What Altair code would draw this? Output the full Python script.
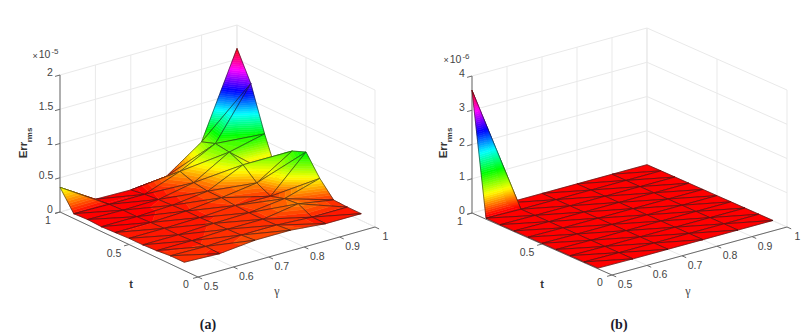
import altair as alt
import pandas as pd

gamma_vals = [0.5, 0.6, 0.7, 0.8, 0.9, 1.0]
t_vals = [1.0, 0.9, 0.8, 0.7, 0.6, 0.5, 0.4, 0.3, 0.2, 0.1]

# Err_rms x 1e-5, rows by t, columns by gamma
err_a = [
    [0.36, 0.04, 0.03, 0.08, 0.44, 1.66],
    [0.07, 0.06, 0.06, 0.25, 0.51, 1.24],
    [0.08, 0.07, 0.08, 0.18, 0.48, 0.60],
    [0.07, 0.07, 0.09, 0.15, 0.39, 0.05],
    [0.08, 0.08, 0.10, 0.15, 0.22, 0.54],
    [0.09, 0.09, 0.10, 0.13, 0.12, 0.62],
    [0.09, 0.09, 0.11, 0.12, 0.18, 0.33],
    [0.10, 0.10, 0.12, 0.12, 0.20, 0.11],
    [0.12, 0.11, 0.13, 0.13, 0.10, 0.10],
    [0.12, 0.10, 0.15, 0.15, 0.10, 0.10],
]
# Err_rms x 1e-6
err_b = [
    [3.58, 0.01, 0.01, 0.01, 0.01, 0.01],
    [0.03, 0.01, 0.01, 0.01, 0.01, 0.01],
    [0.02, 0.01, 0.01, 0.01, 0.01, 0.01],
    [0.02, 0.01, 0.01, 0.01, 0.01, 0.01],
    [0.02, 0.01, 0.01, 0.01, 0.01, 0.01],
    [0.02, 0.01, 0.01, 0.01, 0.01, 0.01],
    [0.02, 0.01, 0.01, 0.01, 0.01, 0.01],
    [0.02, 0.01, 0.01, 0.01, 0.01, 0.01],
    [0.02, 0.01, 0.01, 0.01, 0.01, 0.01],
    [0.02, 0.01, 0.01, 0.01, 0.01, 0.01],
]

gamma_ticks = [0.5, 0.6, 0.7, 0.8, 0.9, 1.0]
gamma_labels = ["0.5", "0.6", "0.7", "0.8", "0.9", "1"]
t_ticks = [1.0, 0.5, 0.0]
t_labels = ["1", "0.5", "0"]
z_ticks_a = [0, 0.5, 1, 1.5, 2]
z_labels_a = ["0", "0.5", "1", "1.5", "2"]
z_ticks_b = [0, 1, 2, 3, 4]
z_labels_b = ["0", "1", "2", "3", "4"]

BANDS = 64
AXIS = "#6a6a6a"
GRID = "#e9e9e9"
TEXT = "#444444"


def hsv_colour(f):
    f = max(0.0, min(0.999, f)) * 6
    i = int(f)
    r = f - i
    table = [(1, r, 0), (1 - r, 1, 0), (0, 1, r), (0, 1 - r, 1), (r, 0, 1), (1, 0, 1 - r)]
    c = table[i]
    return "#%02x%02x%02x" % tuple(int(round(v * 255)) for v in c)


def clip(poly, level, keep_above):
    out = []
    n = len(poly)
    for i in range(n):
        a, b = poly[i], poly[(i + 1) % n]
        ina = a[2] >= level if keep_above else a[2] <= level
        inb = b[2] >= level if keep_above else b[2] <= level
        if ina:
            out.append(a)
        if ina != inb:
            s = (level - a[2]) / (b[2] - a[2])
            out.append(tuple(a[k] + s * (b[k] - a[k]) for k in range(3)))
    return out


class Panel:
    def __init__(self, origin, gvec, tvec, zscale, ztop):
        self.o, self.g, self.t, self.zs, self.ztop = origin, gvec, tvec, zscale, ztop

    def at(self, gamma, t, z):
        a = (gamma - 0.5) * 2
        b = 1 - t
        return (self.o[0] + a * self.g[0] + b * self.t[0],
                self.o[1] + a * self.g[1] + b * self.t[1] - z * self.zs)


panel_a = Panel((60, 212), (177, -50), (138, 65), 68.5, 2)
panel_b = Panel((472, 213), (175, -48), (140, 62), 34.25, 4)

surface_rows = []
line_rows = []
counter = [0]


def add_path(points, fill, stroke, width):
    counter[0] += 1
    pid = "p%06d" % counter[0]
    for k, (x, y) in enumerate(points):
        surface_rows.append(dict(px=x, py=y, pid=pid, k=k, fill=fill, stroke=stroke, sw=width))


def add_surface(p, err, colour_floor):
    zmin = min(min(r) for r in err)
    zmax = max(max(r) for r in err)
    step = (zmax - zmin) / BANDS
    tris = []
    for j in range(len(t_vals) - 1):
        for i in range(len(gamma_vals) - 1):
            A = (gamma_vals[i], t_vals[j], err[j][i])
            B = (gamma_vals[i + 1], t_vals[j], err[j][i + 1])
            C = (gamma_vals[i], t_vals[j + 1], err[j + 1][i])
            D = (gamma_vals[i + 1], t_vals[j + 1], err[j + 1][i + 1])
            tris.append((A, B, D))
            tris.append((A, C, D))

    def depth(tri):
        return sum(50 * (v[0] - 0.5) * 2 + 65 * v[1] for v in tri) / 3

    tris.sort(key=depth, reverse=True)
    for tri in tris:
        lo = min(v[2] for v in tri)
        hi = max(v[2] for v in tri)
        first = int((lo - zmin) / step)
        last = int(min(BANDS - 1, (hi - zmin) / step))
        for b in range(first, last + 1):
            poly = clip(list(tri), zmin + b * step, True)
            if len(poly) >= 3:
                poly = clip(poly, zmin + (b + 1) * step, False)
            if len(poly) < 3:
                continue
            mid = zmin + (b + 0.5) * step
            col = hsv_colour((mid - colour_floor) / (zmax - colour_floor))
            pts = [p.at(*v) for v in poly]
            add_path(pts + pts[:1], col, col, 0.5)
        pts = [p.at(*v) for v in tri]
        add_path(pts + pts[:1], "transparent", "#1a1a1a", 0.55)


def add_frame(p, zticks):
    rows = []
    for g in gamma_ticks:
        rows.append((p.at(g, 0, 0), p.at(g, 1, 0), GRID, 1))
        rows.append((p.at(g, 1, 0), p.at(g, 1, p.ztop), GRID, 1))
    for t in t_ticks:
        rows.append((p.at(0.5, t, 0), p.at(1, t, 0), GRID, 1))
        rows.append((p.at(1, t, 0), p.at(1, t, p.ztop), GRID, 1))
    for z in zticks:
        rows.append((p.at(0.5, 1, z), p.at(1, 1, z), GRID, 1))
        rows.append((p.at(1, 1, z), p.at(1, 0, z), GRID, 1))
    rows.append((p.at(0.5, 1, 0), p.at(0.5, 1, p.ztop), AXIS, 1))
    rows.append((p.at(0.5, 1, 0), p.at(0.5, 0, 0), AXIS, 1))
    rows.append((p.at(0.5, 0, 0), p.at(1, 0, 0), AXIS, 1))
    for z in zticks:
        rows.append((p.at(0.5, 1, z), p.at(0.486, 1, z), AXIS, 1))
    for t in t_ticks:
        rows.append((p.at(0.5, t, 0), p.at(0.486, t, 0), AXIS, 1))
    for g in gamma_ticks:
        rows.append((p.at(g, 0, 0), p.at(g, -0.03, 0), AXIS, 1))
    for (a, b, col, w) in rows:
        counter[0] += 1
        pid = "f%06d" % counter[0]
        line_rows.append(dict(px=a[0], py=a[1], pid=pid, k=0, stroke=col, sw=w))
        line_rows.append(dict(px=b[0], py=b[1], pid=pid, k=1, stroke=col, sw=w))


add_frame(panel_a, z_ticks_a)
add_frame(panel_b, z_ticks_b)
add_surface(panel_a, err_a, 0.07)
add_surface(panel_b, err_b, 0.1)

X = alt.X("px:Q", scale=alt.Scale(domain=[8, 802], nice=False, zero=False), axis=None)
Y = alt.Y("py:Q", scale=alt.Scale(domain=[334, 8], nice=False, zero=False), axis=None)

frame = alt.Chart(pd.DataFrame(line_rows)).mark_line(interpolate="linear").encode(
    x=X, y=Y, detail="pid:N", order=alt.Order("k:Q"),
    stroke=alt.Stroke("stroke:N", scale=None),
    strokeWidth=alt.StrokeWidth("sw:Q", scale=None),
)
surface = alt.Chart(pd.DataFrame(surface_rows)).mark_line(interpolate="linear", strokeJoin="round").encode(
    x=X, y=Y, detail="pid:N", order=alt.Order("k:Q"),
    fill=alt.Fill("fill:N", scale=None),
    stroke=alt.Stroke("stroke:N", scale=None),
    strokeWidth=alt.StrokeWidth("sw:Q", scale=None),
)

labels = []


def lab(text, x, y, size=10.5):
    labels.append(dict(text=text, px=x, py=y, size=size))


for ztexts, zt, p in [
    (z_labels_a, z_ticks_a, panel_a),
    (z_labels_b, z_ticks_b, panel_b),
]:
    for s, z in zip(ztexts, zt):
        a = p.at(0.5, 1, z)
        lab(s, a[0] - (14 if "." in s else 10), a[1] - 2)
    for s, t in zip(t_labels, t_ticks):
        a = p.at(0.5, t, 0)
        lab(s, a[0] - (15 if "." in s else 12), a[1] + (9 if t > 0 else 8))
    for s, g in zip(gamma_labels, gamma_ticks):
        a = p.at(g, 0, 0)
        lab(s, a[0] + (13 if "." in s else 10.5), a[1] + 10)

ticktext = alt.Chart(pd.DataFrame(labels)).mark_text(
    align="center", baseline="middle", font="Liberation Sans", color=TEXT
).encode(x=X, y=Y, text="text:N", size=alt.Size("size:Q", scale=None))

tname = alt.Chart(pd.DataFrame([
    dict(text="t", px=131, py=285), dict(text="t", px=542, py=285),
])).mark_text(align="center", baseline="middle", font="Liberation Sans", fontSize=11,
              fontWeight="bold", color="#333333").encode(x=X, y=Y, text="text:N")

extra_plain = pd.DataFrame([
    dict(text="\u00d7", px=35, py=56, size=9),
    dict(text="10", px=44.5, py=55, size=10.5),
    dict(text="-5", px=55, py=52, size=8),
    dict(text="\u00d7", px=446, py=60, size=9),
    dict(text="10", px=455.5, py=59.5, size=10.5),
    dict(text="-6", px=466, py=56.5, size=8),
])
extra = alt.Chart(extra_plain).mark_text(align="center", baseline="middle", font="Liberation Sans", color=TEXT).encode(
    x=X, y=Y, text="text:N", size=alt.Size("size:Q", scale=None))

gamma_name = alt.Chart(pd.DataFrame([
    dict(text="\u03b3", px=277, py=291), dict(text="\u03b3", px=688, py=291),
])).mark_text(align="center", baseline="middle", font="Liberation Serif", fontSize=12, color=TEXT).encode(x=X, y=Y, text="text:N")

err_name = alt.Chart(pd.DataFrame([
    dict(text="Err", px=24, py=150), dict(text="Err", px=444, py=150),
])).mark_text(align="center", baseline="middle", font="Liberation Sans", fontSize=11.5, fontWeight="bold", angle=270, color="#333333").encode(x=X, y=Y, text="text:N")
rms_name = alt.Chart(pd.DataFrame([
    dict(text="rms", px=29.5, py=135), dict(text="rms", px=449.5, py=135),
])).mark_text(align="center", baseline="middle", font="Liberation Sans", fontSize=8, fontWeight="bold", angle=270, color="#333333").encode(x=X, y=Y, text="text:N")

caption = alt.Chart(pd.DataFrame([
    dict(text="(a)", px=208, py=325), dict(text="(b)", px=619, py=325),
])).mark_text(align="center", baseline="middle", font="Liberation Serif", fontSize=14, fontWeight="bold", color="#1a1a2a").encode(x=X, y=Y, text="text:N")

chart = alt.layer(frame, surface, ticktext, tname, extra, gamma_name, err_name, rms_name, caption).properties(
    width=794, height=326,
    padding={"left": 0, "top": 0, "right": 0, "bottom": 0},
    autosize=alt.AutoSizeParams(type="none"),
).configure_view(stroke=None)

chart.save("out.html", embed_options={"renderer": "svg", "actions": False})
